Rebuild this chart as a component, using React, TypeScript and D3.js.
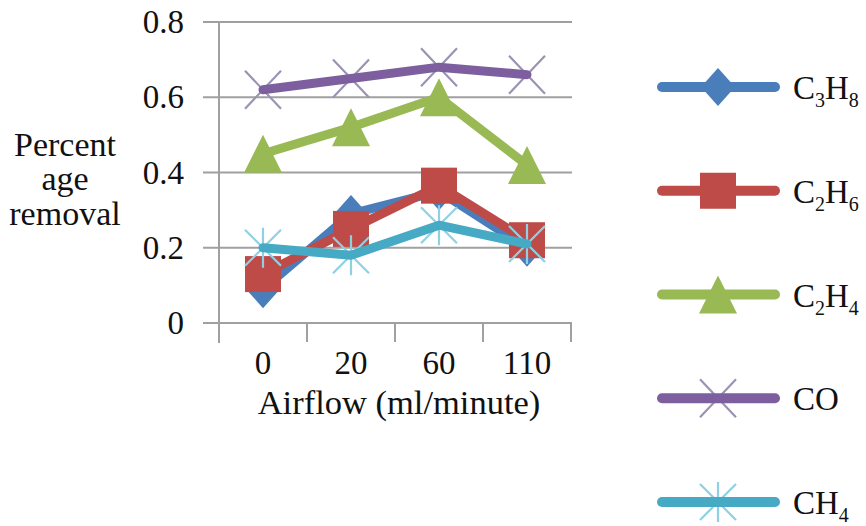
import React from "react";
import * as d3 from "d3";

const categories = ["0", "20", "60", "110"];
const yTicks = [0, 0.2, 0.4, 0.6, 0.8];
const c3h8 = [0.09, 0.29, 0.35, 0.2];
const c2h6 = [0.13, 0.25, 0.365, 0.22];
const c2h4 = [0.45, 0.52, 0.6, 0.42];
const co = [0.62, 0.65, 0.68, 0.66];
const ch4 = [0.2, 0.18, 0.26, 0.21];

type Series = { name: string; sub: [string, string] | null; values: number[]; color: string; marker: string; markColor: string };

const series: Series[] = [
  { name: "C3H8", sub: ["3", "8"], values: c3h8, color: "#4a7ebb", marker: "diamond", markColor: "#4a7ebb" },
  { name: "C2H6", sub: ["2", "6"], values: c2h6, color: "#be4b48", marker: "square", markColor: "#be4b48" },
  { name: "C2H4", sub: ["2", "4"], values: c2h4, color: "#98b954", marker: "triangle", markColor: "#98b954" },
  { name: "CO", sub: null, values: co, color: "#7d5fa0", marker: "x", markColor: "#9c93b4" },
  { name: "CH4", sub: null, values: ch4, color: "#46aac5", marker: "star", markColor: "#8fd0e2" },
];

const FONT = "'Liberation Serif', 'Times New Roman', serif";

function Marker({ type, x, y, color }: { type: string; x: number; y: number; color: string }) {
  const t = `translate(${x},${y})`;
  if (type === "diamond") return <path transform={t} d="M0,-19L17,0L0,19L-17,0Z" fill={color} />;
  if (type === "square") return <rect transform={t} x={-18} y={-18} width={36} height={36} fill={color} />;
  if (type === "triangle") return <path transform={t} d="M0,-19L19,19L-19,19Z" fill={color} />;
  if (type === "x")
    return <path transform={t} d="M-18,-19L18,19M18,-19L-18,19" stroke={color} strokeWidth={2.2} fill="none" />;
  if (type === "star")
    return <path transform={t} d="M-18,-18L18,18M18,-18L-18,18M0,-20L0,20" stroke={color} strokeWidth={2.2} fill="none" />;
  return null;
}

export default function App() {
  const W = 866, H = 526;
  const x = d3.scaleBand<string>().domain(categories).range([219, 571]);
  const y = d3.scaleLinear().domain([0, 0.8]).range([323, 22]);
  const cx = (i: number) => (x(categories[i]) as number) + x.bandwidth() / 2;
  const line = d3.line<number>().x((_, i) => cx(i)).y((v) => y(v));
  const grid = "#a0a0a0";
  const boundaries = [...categories.map((c) => x(c) as number), 571];

  const legendY0 = 87;
  const legendStep = 103.75;

  return (
    <svg width={W} height={H} style={{ position: "absolute", left: 0, top: 0, background: "#fff" }} fontFamily={FONT}>
      <rect width={W} height={H} fill="#fff" />
      {yTicks.map((t) => (
        <line key={t} x1={203} x2={572} y1={y(t)} y2={y(t)} stroke={grid} strokeWidth={2} />
      ))}
      <line x1={219} x2={219} y1={y(0.8)} y2={343} stroke={grid} strokeWidth={2} />
      {boundaries.map((b, i) => (
        <line key={i} x1={b} x2={b} y1={y(0)} y2={342} stroke={grid} strokeWidth={2} />
      ))}
      {yTicks.map((t) => (
        <text key={t} x={184} y={y(t) + 11} textAnchor="end" fontSize={33} fill="#111">
          {t === 0 ? "0" : t.toFixed(1)}
        </text>
      ))}
      {categories.map((c, i) => (
        <text key={c} x={cx(i)} y={374} textAnchor="middle" fontSize={33} fill="#111">
          {c}
        </text>
      ))}
      <text x={399} y={414} textAnchor="middle" fontSize={34.5} fill="#111">
        Airflow (ml/minute)
      </text>
      <text x={65} y={156} textAnchor="middle" fontSize={34} fill="#111">
        Percent
      </text>
      <text x={65} y={190} textAnchor="middle" fontSize={34} fill="#111">
        age
      </text>
      <text x={65} y={225} textAnchor="middle" fontSize={34} fill="#111">
        removal
      </text>

      {series.map((s) => {
        const pts = s.values.map((v, i) => [cx(i), y(v)]);
        const thin = s.marker === "x" || s.marker === "star";
        return (
          <g key={s.name}>
            {thin && pts.map((p, i) => <Marker key={i} type={s.marker} x={p[0]} y={p[1]} color={s.markColor} />)}
            <path d={line(s.values) || ""} fill="none" stroke={s.color} strokeWidth={9} strokeLinejoin="round" strokeLinecap="round" />
            {!thin && pts.map((p, i) => <Marker key={i} type={s.marker} x={p[0]} y={p[1]} color={s.markColor} />)}
          </g>
        );
      })}

      {series.map((s, i) => {
        const ly = legendY0 + i * legendStep;
        const thin = s.marker === "x" || s.marker === "star";
        return (
          <g key={s.name}>
            {thin && <Marker type={s.marker} x={718} y={ly} color={s.markColor} />}
            <line x1={662} x2={775} y1={ly} y2={ly} stroke={s.color} strokeWidth={10} strokeLinecap="round" />
            {!thin && <Marker type={s.marker} x={718} y={ly} color={s.markColor} />}
            <text x={793} y={ly + 12} fontSize={33} fill="#111">
              {s.name === "CO" ? (
                "CO"
              ) : s.name === "CH4" ? (
                <>
                  CH<tspan fontSize={20} dy={8}>4</tspan>
                </>
              ) : (
                <>
                  C<tspan fontSize={20} dy={8}>{s.sub![0]}</tspan>
                  <tspan dy={-8}>H</tspan>
                  <tspan fontSize={20} dy={8}>{s.sub![1]}</tspan>
                </>
              )}
            </text>
          </g>
        );
      })}
    </svg>
  );
}
